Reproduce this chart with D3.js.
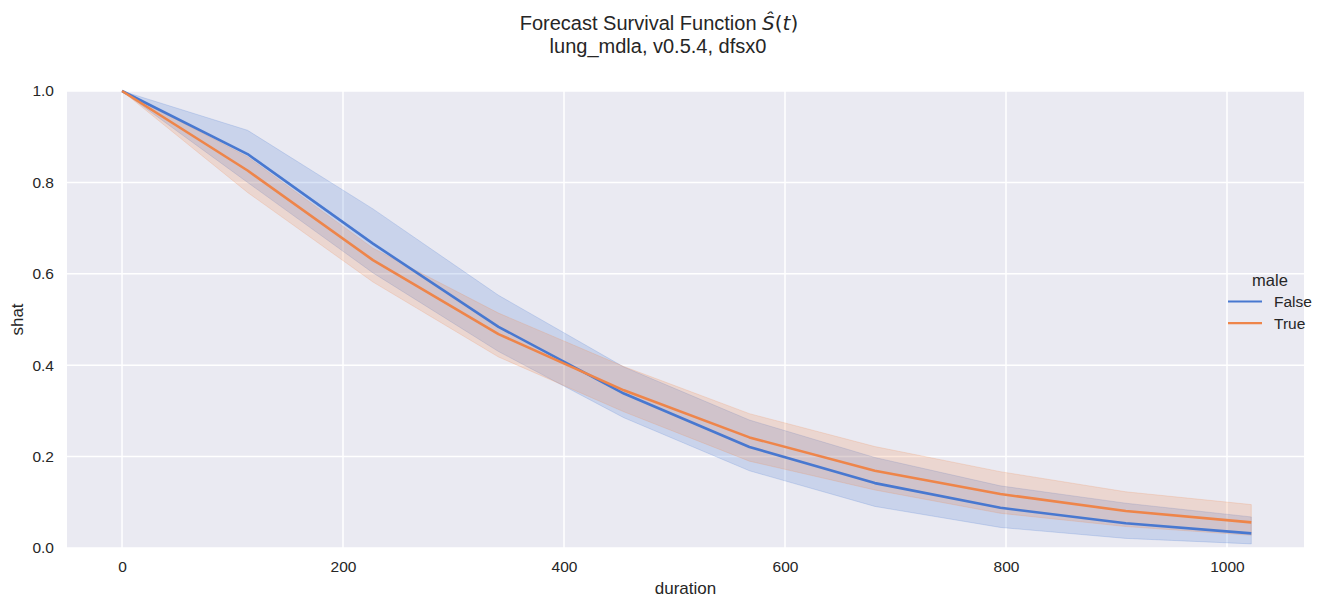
<!DOCTYPE html>
<html><head><meta charset="utf-8">
<script src="https://cdn.jsdelivr.net/npm/d3@7"></script>
<style>body{margin:0;background:#fff;} text{font-family:"Liberation Sans",Arial,Helvetica,sans-serif;}</style>
</head><body><svg id="c" width="1325" height="599"></svg>
<script>
const durations = [0, 113.6, 227.1, 340.7, 454.2, 567.8, 681.3, 794.9, 908.4, 1022];
const falseMean = [1.0, 0.862, 0.666, 0.484, 0.338, 0.221, 0.142, 0.088, 0.054, 0.032];
const falseLow  = [1.0, 0.800, 0.602, 0.430, 0.285, 0.169, 0.091, 0.045, 0.021, 0.009];
const falseHigh = [1.0, 0.914, 0.742, 0.553, 0.396, 0.280, 0.198, 0.136, 0.098, 0.068];
const trueMean  = [1.0, 0.826, 0.630, 0.468, 0.345, 0.242, 0.169, 0.118, 0.081, 0.056];
const trueLow   = [1.0, 0.778, 0.582, 0.418, 0.298, 0.190, 0.127, 0.076, 0.047, 0.028];
const trueHigh  = [1.0, 0.856, 0.656, 0.514, 0.397, 0.294, 0.222, 0.167, 0.123, 0.095];
const xTicks = [0, 200, 400, 600, 800, 1000];
const yTicks = [0.0, 0.2, 0.4, 0.6, 0.8, 1.0];
const seriesNames = ["False", "True"];
const colors = ["#4878d0", "#ee854a"];

const svg = d3.select("#c");
const L = 67, R = 1304, T = 91, B = 548;
const x = d3.scaleLinear().domain([-49.8, 1069.7]).range([L, R]);
const y = d3.scaleLinear().domain([0, 1]).range([B, T]);

svg.append("rect").attr("x", L).attr("y", T).attr("width", R - L).attr("height", B - T).attr("fill", "#eaeaf2");

const grid = svg.append("g");
grid.selectAll(".gx").data(xTicks).enter().append("line")
  .attr("x1", d => x(d)).attr("x2", d => x(d)).attr("y1", T).attr("y2", B)
  .attr("stroke", "#fff").attr("stroke-width", 1.5);
grid.selectAll(".gy").data(yTicks).enter().append("line")
  .attr("y1", d => y(d)).attr("y2", d => y(d)).attr("x1", L).attr("x2", R)
  .attr("stroke", "#fff").attr("stroke-width", 1.5);

const xAxis = svg.append("g").attr("transform", `translate(0,${B})`)
  .call(d3.axisBottom(x).tickValues(xTicks).tickSize(0).tickPadding(13).tickFormat(d3.format("d")));
const yAxis = svg.append("g").attr("transform", `translate(${L},0)`)
  .call(d3.axisLeft(y).tickValues(yTicks).tickSize(0).tickPadding(13).tickFormat(d3.format(".1f")));
[xAxis, yAxis].forEach(a => {
  a.select(".domain").remove();
  a.selectAll("text").attr("font-size", 15.5).attr("fill", "#262626")
    .attr("font-family", '"Liberation Sans",Arial,sans-serif');
});

const groups = [
  {name: seriesNames[0], mean: falseMean, lo: falseLow, hi: falseHigh, color: colors[0]},
  {name: seriesNames[1], mean: trueMean, lo: trueLow, hi: trueHigh, color: colors[1]}
];
const area = d3.area().x((d, i) => x(durations[i])).y0(d => y(d[0])).y1(d => y(d[1]));
const line = d3.line().x((d, i) => x(durations[i])).y(d => y(d));

groups.forEach(g => {
  const band = g.lo.map((v, i) => [v, g.hi[i]]);
  svg.append("path").datum(band).attr("d", area).attr("fill", g.color).attr("fill-opacity", 0.2)
    .attr("stroke", g.color).attr("stroke-opacity", 0.2).attr("stroke-width", 1);
});
groups.forEach(g => {
  svg.append("path").datum(g.mean).attr("d", line).attr("fill", "none")
    .attr("stroke", g.color).attr("stroke-width", 2.6).attr("stroke-linejoin", "round");
});

// axis labels
svg.append("text").attr("x", (L + R) / 2).attr("y", 594).attr("text-anchor", "middle")
  .attr("font-size", 17).attr("fill", "#262626").text("duration");
svg.append("text").attr("transform", `translate(23,${(T + B) / 2}) rotate(-90)`).attr("text-anchor", "middle")
  .attr("font-size", 17).attr("fill", "#262626").text("shat");

// title
const t1 = svg.append("text").attr("x", 659).attr("y", 30).attr("text-anchor", "middle")
  .attr("font-size", 20).attr("fill", "#262626");
t1.append("tspan").text("Forecast Survival Function ");
t1.append("tspan").attr("font-family", '"DejaVu Sans",sans-serif').attr("font-style", "italic").text("Ŝ");
t1.append("tspan").attr("font-family", '"DejaVu Sans",sans-serif').text("(");
t1.append("tspan").attr("font-family", '"DejaVu Sans",sans-serif').attr("font-style", "italic").text("t");
t1.append("tspan").attr("font-family", '"DejaVu Sans",sans-serif').text(")");
svg.append("text").attr("x", 658).attr("y", 53).attr("text-anchor", "middle")
  .attr("font-size", 20).attr("fill", "#262626").text("lung_mdla, v0.5.4, dfsx0");

// legend
const lg = svg.append("g");
lg.append("text").attr("x", 1270).attr("y", 286).attr("text-anchor", "middle")
  .attr("font-size", 16.5).attr("fill", "#262626").text("male");
groups.forEach((g, i) => {
  const yy = 301.5 + i * 21.7;
  lg.append("line").attr("x1", 1228).attr("x2", 1262).attr("y1", yy).attr("y2", yy)
    .attr("stroke", g.color).attr("stroke-width", 2.2);
  lg.append("text").attr("x", 1274).attr("y", yy + 5.5).attr("font-size", 15.5).attr("fill", "#262626").text(g.name);
});
</script></body></html>
